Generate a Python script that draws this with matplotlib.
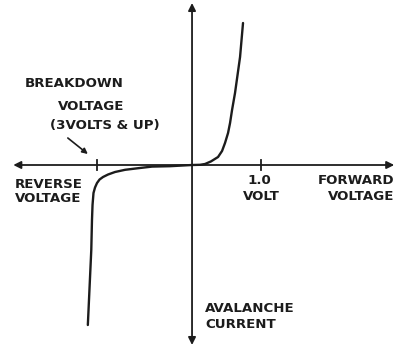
import matplotlib.pyplot as plt

# Diode characteristic, points
fwd_volts = [0.0, 0.116, 0.188, 0.275, 0.377, 0.435, 0.478, 0.522, 0.551, 0.58, 0.623, 0.696, 0.739]
fwd_current = [0.0, 0.005, 0.025, 0.09, 0.2, 0.35, 0.55, 0.8, 1.05, 1.375, 1.8, 2.7, 3.55]

rev_volts = [0.0, -0.32, -0.58, -0.78, -0.97, -1.116, -1.217, -1.29, -1.34, -1.377,
             -1.406, -1.428, -1.442, -1.45, -1.46, -1.51]
rev_current = [0.0, -0.03, -0.04, -0.08, -0.12, -0.175, -0.2375, -0.3, -0.3625, -0.45,
               -0.5625, -0.7, -1.0, -1.38, -2.12, -4.0]

breakdown_v = -1.38
one_volt = 1.0

ink = '#1c1c1c'
font = dict(family='DejaVu Sans', fontweight='bold', fontsize=9.6, color=ink)

fig = plt.figure(figsize=(4.04, 3.46), dpi=100)
ax = fig.add_axes([0, 0, 1, 1])
ax.set_xlim(-2.783, 3.072)
ax.set_ylim(-4.525, 4.125)
ax.axis('off')

# axes with arrow heads on both ends
arrow = dict(arrowstyle='<|-|>', color=ink, lw=1.3, mutation_scale=11, shrinkA=0, shrinkB=0)
ax.annotate('', xy=(-2.59, 0), xytext=(2.93, 0), arrowprops=arrow)
ax.annotate('', xy=(0, 4.05), xytext=(0, -4.5), arrowprops=arrow)

# tick marks
for v in [breakdown_v, one_volt]:
    ax.plot([v, v], [-0.13, 0.13], color=ink, lw=1.3)

ax.plot(fwd_volts, fwd_current, color=ink, lw=1.7, solid_capstyle='round', solid_joinstyle='round')
ax.plot(rev_volts, rev_current, color=ink, lw=1.7, solid_capstyle='round', solid_joinstyle='round')

# labels
ax.text(-2.42, 2.03, 'BREAKDOWN', ha='left', va='center', **font)
ax.text(-1.94, 1.45, 'VOLTAGE', ha='left', va='center', **font)
ax.text(-2.06, 0.975, '(3VOLTS & UP)', ha='left', va='center', **font)
ax.annotate('', xy=(-1.51, 0.275), xytext=(-1.80, 0.675),
            arrowprops=dict(arrowstyle='-|>', color=ink, lw=1.2, mutation_scale=8, shrinkA=0, shrinkB=0))

ax.text(-2.57, -0.5, 'REVERSE', ha='left', va='center', **font)
ax.text(-2.57, -0.85, 'VOLTAGE', ha='left', va='center', **font)

ax.text(0.97, -0.375, '1.0', ha='center', va='center', **font)
ax.text(1.01, -0.8, 'VOLT', ha='center', va='center', **font)

ax.text(2.93, -0.375, 'FORWARD', ha='right', va='center', **font)
ax.text(2.93, -0.8, 'VOLTAGE', ha='right', va='center', **font)

ax.text(0.19, -3.575, 'AVALANCHE', ha='left', va='center', **font)
ax.text(0.19, -4.0, 'CURRENT', ha='left', va='center', **font)

plt.savefig('out.png', dpi=100)
